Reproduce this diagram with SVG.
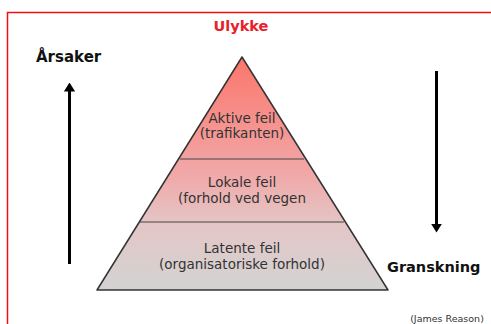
<svg xmlns="http://www.w3.org/2000/svg" width="491" height="324" viewBox="0 0 491 324">
  <style>
    .lbl { font-family: "DejaVu Sans", Verdana, sans-serif; font-weight: bold; fill: #111; }
    .lvl { font-family: "DejaVu Sans", Verdana, sans-serif; font-size: 13.5px; fill: #333; text-anchor: middle; }
    .arrow { stroke: #000; stroke-width: 3; fill: none; }
  </style>
  <defs>
    <linearGradient id="pyr" x1="0" y1="57" x2="0" y2="290" gradientUnits="userSpaceOnUse">
      <stop offset="0" stop-color="#fb766c"/>
      <stop offset="0.5" stop-color="#f1a8a8"/>
      <stop offset="0.72" stop-color="#e4c6c6"/>
      <stop offset="1" stop-color="#d3d3d3"/>
    </linearGradient>
    <marker id="ah" viewBox="0 0 8 10" refX="4" refY="5" markerWidth="3" markerHeight="3.8" markerUnits="strokeWidth" orient="auto">
      <path d="M0,0 L8,5 L0,10 z" fill="#000"/>
    </marker>
  </defs>
  <rect x="0" y="0" width="491" height="324" fill="#fff"/>
  <rect x="7.5" y="12.5" width="500" height="330" fill="none" stroke="#f01010" stroke-width="1.5"/>

  <g id="title">
    <text x="241" y="31" font-family="DejaVu Sans, Verdana, sans-serif" font-weight="bold" font-size="14.5" fill="#e8202a" text-anchor="middle">Ulykke</text>
  </g>

  <g id="pyramid">
    <polygon points="242,57 97,290 388,290" fill="url(#pyr)" stroke="#333" stroke-width="1.5" stroke-linejoin="round"/>
  </g>

  <g id="connectors">
    <line x1="180" y1="159" x2="304" y2="159" stroke="#444" stroke-width="1"/>
    <line x1="140" y1="222" x2="344" y2="222" stroke="#444" stroke-width="1"/>
    <line class="arrow" x1="69.5" y1="264" x2="69.5" y2="87" marker-end="url(#ah)"/>
    <line class="arrow" x1="436.5" y1="71" x2="436.5" y2="228" marker-end="url(#ah)"/>
  </g>

  <g id="aktive">
    <text class="lvl" x="242" y="123">Aktive feil</text>
    <text class="lvl" x="242" y="138">(trafikanten)</text>
  </g>
  <g id="lokale">
    <text class="lvl" x="242" y="187">Lokale feil</text>
    <text class="lvl" x="242" y="203">(forhold ved vegen</text>
  </g>
  <g id="latente">
    <text class="lvl" x="242" y="253">Latente feil</text>
    <text class="lvl" x="242" y="269">(organisatoriske forhold)</text>
  </g>

  <g id="arsaker">
    <text class="lbl" x="36" y="62" font-size="15">Årsaker</text>
  </g>
  <g id="granskning">
    <text class="lbl" x="387" y="272" font-size="14.5">Granskning</text>
  </g>
  <g id="source">
    <text x="447" y="322" font-family="DejaVu Sans, Verdana, sans-serif" font-size="9.5" fill="#333" text-anchor="middle">(James Reason)</text>
  </g>
</svg>
